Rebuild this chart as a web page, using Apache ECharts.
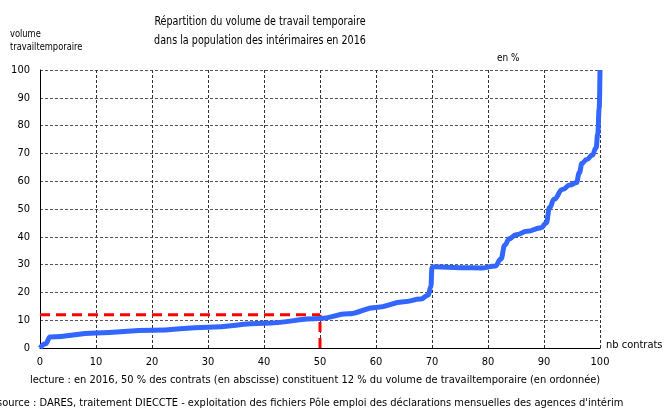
<!DOCTYPE html>
<html><head><meta charset="utf-8">
<script src="https://cdn.jsdelivr.net/npm/echarts@6/dist/echarts.min.js"></script>
<style>html,body{margin:0;padding:0;background:#fff}#c{width:665px;height:412px}</style>
</head><body><div id="c"></div>
<script>
var FONT = "'DejaVu Sans Condensed', sans-serif";
var titleLines = ['Répartition du volume de travail temporaire', 'dans la population des intérimaires en 2016'];
var yAxisName = ['volume', 'travailtemporaire'];
var xAxisName = 'nb contrats';
var unitLabel = 'en %';
var noteText = 'lecture : en 2016, 50 % des contrats (en abscisse) constituent 12 % du volume de travailtemporaire (en ordonnée)';
var sourceText = 'source : DARES, traitement DIECCTE - exploitation des fichiers Pôle emploi des déclarations mensuelles des agences d\'intérim';

var contratsPct = [0, 1, 1.8, 10, 20, 30, 40, 50, 55, 60, 65, 68, 69.3, 69.8, 70, 70.5, 75, 79, 81.3, 82.3, 83, 83.8, 85, 87, 89.5, 90.4, 91, 91.8, 93.3, 94.6, 95.8, 96.3, 96.8, 97.6, 98.6, 99.3, 99.6, 99.85, 100];
var volumePct = [0, 1.5, 4, 5.4, 6.4, 7.5, 8.9, 10.6, 12.3, 14.6, 16.6, 17.6, 19, 22, 29, 29.2, 28.9, 28.8, 29.5, 32, 37, 39.3, 40.7, 42, 43.3, 45, 50.5, 53.5, 57, 58.6, 59.5, 63, 66.5, 67.8, 69.3, 72, 77, 86, 100];

var refX = 50, refY = 12;

var chart = echarts.init(document.getElementById('c'));
var data = contratsPct.map(function(x, i){ return [x, volumePct[i]]; });
var axisText = {color:'#000', fontFamily: FONT, fontSize: 11};
chart.setOption({
  animation: false,
  grid: {left: 40, right: 65, top: 70, bottom: 64},
  xAxis: {type:'value', min:0, max:100, interval:10,
    axisLine:{show:true, lineStyle:{color:'#000', width:1}}, axisTick:{show:false},
    axisLabel: Object.assign({margin: 9}, axisText),
    splitLine:{show:true, lineStyle:{color:'#333', type:[3,2], width:1}}},
  yAxis: {type:'value', min:0, max:100, interval:10,
    axisLine:{show:true, lineStyle:{color:'#000', width:1}}, axisTick:{show:false},
    axisLabel: Object.assign({margin: 10}, axisText),
    splitLine:{show:true, lineStyle:{color:'#555', type:[3,2], width:1}}},
  series: [
    {type:'line', data:[[0,refY],[refX,refY]], symbol:'none', silent:true,
     lineStyle:{color:'#ff0000', width:3, type:[10,6]}, z:3},
    {type:'line', data:[[refX,0],[refX,refY]], symbol:'none', silent:true,
     lineStyle:{color:'#ff0000', width:3, type:[10,6]}, z:3},
    {type:'line', data:data, symbol:'none', smooth:0.45, smoothMonotone:'x',
     lineStyle:{color:'#3366ff', width:5}, z:4}
  ],
  graphic: [
    {type:'text', x:260, y:12, scaleX:0.82, style:{text: titleLines.join('\n'), font:'13px '+FONT, fill:'#000', textAlign:'center', lineHeight:19}},
    {type:'text', x:10, y:28, scaleX:0.84, style:{text: yAxisName.join('\n'), font:'11px '+FONT, fill:'#000', lineHeight:13}},
    {type:'text', x:497, y:53, scaleX:0.9, style:{text: unitLabel, font:'11px '+FONT, fill:'#000'}},
    {type:'text', x:606, y:340, style:{text: xAxisName, font:'11px '+FONT, fill:'#000'}},
    {type:'text', x:30, y:375, style:{text: noteText, font:'11px '+FONT, fill:'#000'}},
    {type:'text', x:-3, y:398, style:{text: sourceText, font:'11px '+FONT, fill:'#000'}}
  ]
});
</script></body></html>
